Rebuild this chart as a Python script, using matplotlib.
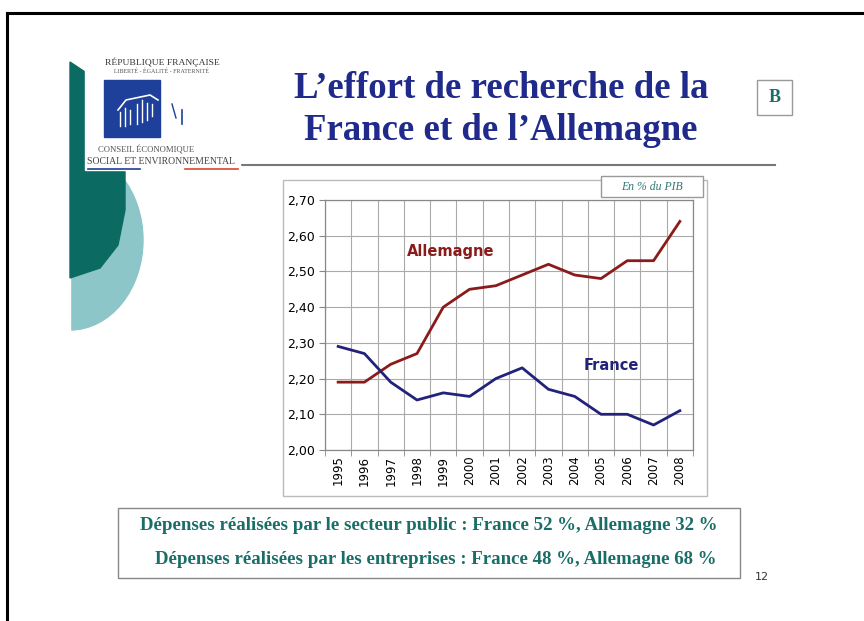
import matplotlib
matplotlib.use("Agg")
import matplotlib.pyplot as plt
from matplotlib.patches import Rectangle, Ellipse, Polygon
from matplotlib.ticker import FuncFormatter, MultipleLocator
import numpy as np

years = ["1995", "1996", "1997", "1998", "1999", "2000", "2001", "2002",
         "2003", "2004", "2005", "2006", "2007", "2008"]
allemagne = [2.19, 2.19, 2.24, 2.27, 2.40, 2.45, 2.46, 2.49, 2.52, 2.49, 2.48, 2.53, 2.53, 2.64]
france = [2.29, 2.27, 2.19, 2.14, 2.16, 2.15, 2.20, 2.23, 2.17, 2.15, 2.10, 2.10, 2.07, 2.11]

W, H = 864, 621
fig = plt.figure(figsize=(W / 100, H / 100), dpi=100)
fig.patch.set_facecolor("white")

# Overlay for slide decorations (pixel coordinates)
bg = fig.add_axes([0, 0, 1, 1])
bg.set_xlim(0, W)
bg.set_ylim(H, 0)
bg.axis("off")

# slide frame
bg.plot([7, 7], [13, H], color="black", lw=2.2, zorder=20)
bg.plot([7, W], [13, 13], color="black", lw=2.2, zorder=20)

# decorative teal shapes
bg.add_patch(Ellipse((70, 240), 146, 180, color="#8cc6c8", zorder=1))
bg.add_patch(Rectangle((0, 40), 70, 320, color="white", zorder=2))
dark = Polygon([(70, 62), (85, 72), (125, 72), (125, 210), (118, 245), (100, 268), (70, 278)],
               closed=True, color="#0b6a62", zorder=3)
bg.add_patch(dark)

# logo box
bg.add_patch(Rectangle((85, 48), 155, 122, color="white", zorder=4))
bg.text(162, 62, "RÉPUBLIQUE FRANÇAISE", ha="center", va="center", fontsize=6.8,
        family="Liberation Serif", color="#333333", zorder=5)
bg.text(162, 71, "LIBERTÉ - ÉGALITÉ - FRATERNITÉ", ha="center", va="center", fontsize=4.3,
        family="Liberation Serif", color="#555555", zorder=5)
bg.add_patch(Rectangle((104, 80), 56, 57, color="#1e3f9a", zorder=5))
# stylised building drawing
bg.plot([118, 126, 150, 158], [110, 100, 95, 100], color="white", lw=1.2, zorder=6)
for xx, y0, y1 in [(120, 112, 126), (125, 108, 126), (130, 110, 124), (137, 104, 124),
                   (142, 100, 122), (147, 103, 120), (152, 104, 116)]:
    bg.plot([xx, xx], [y0, y1], color="white", lw=1.0, zorder=6)
bg.plot([182, 182], [110, 124], color="#1e3f9a", lw=1.2, zorder=6)
bg.plot([172, 176], [104, 118], color="#1e3f9a", lw=1.0, zorder=6)
bg.text(146, 150, "CONSEIL ÉCONOMIQUE", ha="center", va="center", fontsize=6.2,
        family="Liberation Serif", color="#555555", zorder=5)
bg.text(161, 162, "SOCIAL ET ENVIRONNEMENTAL", ha="center", va="center", fontsize=7.0,
        family="Liberation Serif", color="#444444", zorder=5)
bg.plot([88, 140], [169, 169], color="#1e3f9a", lw=1.2, zorder=5)
bg.plot([185, 238], [169, 169], color="#d9472b", lw=1.2, zorder=5)

# header line
bg.plot([240, 775], [165, 165], color="#777777", lw=1.5)

# title
bg.text(501, 89, "L’effort de recherche de la", ha="center", va="center",
        fontsize=26.5, fontweight="bold", family="Liberation Serif", color="#1f2a8a")
bg.text(501, 131, "France et de l’Allemagne", ha="center", va="center",
        fontsize=26.5, fontweight="bold", family="Liberation Serif", color="#1f2a8a")

# B box
bg.add_patch(Rectangle((757, 80), 35, 35, fill=False, ec="#999999", lw=1.0))
bg.text(774.5, 98, "B", ha="center", va="center", fontsize=13, fontweight="bold",
        family="Liberation Serif", color="#1a6e68")

# chart frame
bg.add_patch(Rectangle((283, 180), 424, 316, fill=False, ec="#bbbbbb", lw=1.0))
bg.add_patch(Rectangle((601, 176), 102, 21, facecolor="white", ec="#999999", lw=1.0, zorder=5))
bg.text(652, 186.5, "En % du PIB", ha="center", va="center", fontsize=8.5, style="italic",
        family="Liberation Serif", color="#2f7a74", zorder=6)

# bottom text box
bg.add_patch(Rectangle((118, 508), 622, 70, fill=False, ec="#888888", lw=1.0))
bg.text(429, 526, "Dépenses réalisées par le secteur public : France 52 %, Allemagne 32 %",
        ha="center", va="center", fontsize=13.6, fontweight="bold",
        family="Liberation Serif", color="#1a6e68")
bg.text(436, 559, "Dépenses réalisées par les entreprises : France 48 %, Allemagne 68 %",
        ha="center", va="center", fontsize=13.6, fontweight="bold",
        family="Liberation Serif", color="#1a6e68")
bg.text(762, 577, "12", ha="center", va="center", fontsize=8, color="#333333",
        family="DejaVu Sans")

# chart axes
l, r, t, b = 325, 693, 200, 450
ax = fig.add_axes([l / W, 1 - b / H, (r - l) / W, (b - t) / H])
x = np.arange(len(years))
ax.plot(x, allemagne, color="#8b1a1a", lw=2.0, zorder=3)
ax.plot(x, france, color="#22227a", lw=2.0, zorder=3)
ax.set_xlim(-0.5, len(years) - 0.5)
ax.set_ylim(2.0, 2.7)
ax.yaxis.set_major_locator(MultipleLocator(0.1))
ax.yaxis.set_major_formatter(FuncFormatter(lambda v, p: f"{v:.2f}".replace(".", ",")))
ax.set_xticks(x)
ax.set_xticklabels(years, rotation=90)
ax.set_xticks(np.arange(-0.5, len(years), 1), minor=True)
ax.tick_params(axis="x", which="major", length=0, pad=4, labelsize=8.5)
ax.tick_params(axis="x", which="minor", length=4, color="#888888")
ax.tick_params(axis="y", length=4, color="#888888", labelsize=9)
ax.grid(True, which="major", axis="y", color="#aaaaaa", lw=0.8)
ax.grid(True, which="minor", axis="x", color="#aaaaaa", lw=0.8)
for s in ax.spines.values():
    s.set_color("#888888")
    s.set_linewidth(0.9)
ax.text(2.62, 2.555, "Allemagne", fontsize=10.5, fontweight="bold", color="#8b1a1a",
        ha="left", va="center")
ax.text(9.35, 2.237, "France", fontsize=10.5, fontweight="bold", color="#22227a",
        ha="left", va="center")

fig.savefig("out.png", dpi=100)
